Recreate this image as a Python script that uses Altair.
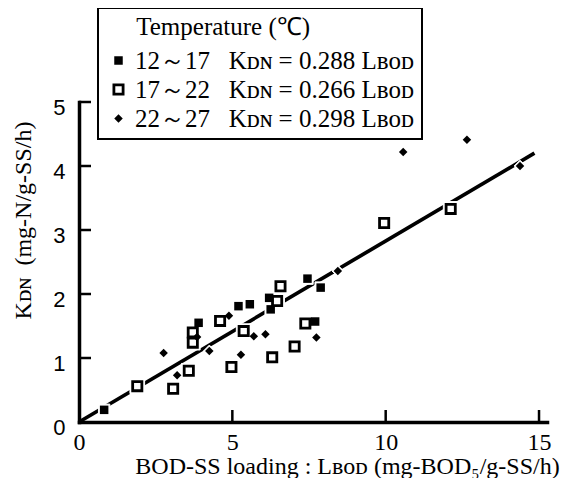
import altair as alt
import pandas as pd

# ---- data ----
temp_ranges = ["12～17", "17～22", "22～27"]
equations = ["Kᴅɴ = 0.288 Lʙᴏᴅ", "Kᴅɴ = 0.266 Lʙᴏᴅ", "Kᴅɴ = 0.298 Lʙᴏᴅ"]

g1_x = [0.82, 3.90, 5.20, 5.57, 6.20, 6.25, 7.45, 7.88, 7.70]
g1_y = [0.19, 1.55, 1.81, 1.84, 1.94, 1.76, 2.24, 2.10, 1.57]

g2_x = [1.90, 3.07, 3.58, 3.71, 3.71, 4.60, 5.37, 4.97, 6.30, 7.03, 7.38, 6.46, 6.57, 9.95, 12.12]
g2_y = [0.56, 0.52, 0.80, 1.40, 1.24, 1.58, 1.42, 0.86, 1.01, 1.18, 1.54, 1.89, 2.12, 3.11, 3.33]

g3_x = [2.76, 3.20, 3.85, 4.25, 4.89, 5.28, 5.70, 6.08, 7.74, 8.44, 10.57, 12.65, 14.38]
g3_y = [1.08, 0.73, 1.33, 1.11, 1.66, 1.05, 1.34, 1.37, 1.32, 2.36, 4.22, 4.41, 4.00]

line_x = [0.0, 14.85]
line_y = [0.0, 4.20]

x_tick_values = [0, 5, 10, 15]
y_tick_values = [0, 1, 2, 3, 4, 5]
x_inner_ticks = [5, 10, 15]
y_inner_ticks = [1, 2, 3, 4, 5]

# ---- build tables ----
NB = "\u00a0"
ZW = "\u200b"
labels = [f"{t}{NB*3}{e}" for t, e in zip(temp_ranges, equations)]
groups_x = [g1_x, g2_x, g3_x]
groups_y = [g1_y, g2_y, g3_y]
rows = []
for lab, xs, ys in zip(labels, groups_x, groups_y):
    for a, b in zip(xs, ys):
        rows.append({"x": a, "y": b, "group": lab})
pts = pd.DataFrame(rows)
line_df = pd.DataFrame({"x": line_x, "y": line_y})
xt_df = pd.DataFrame({"x": x_inner_ticks})
yt_df = pd.DataFrame({"y": y_inner_ticks})

# marker shapes (unit paths)
FSQ = "M-0.85,-0.85L0.85,-0.85L0.85,0.85L-0.85,0.85Z"
OSQ = "M-1.2,-1.2L1.2,-1.2L1.2,1.2L-1.2,1.2Z M-0.64,-0.64L-0.64,0.64L0.64,0.64L0.64,-0.64Z"
OSQ_OUT = "M-1.2,-1.2L1.2,-1.2L1.2,1.2L-1.2,1.2Z"
DIA = "M0,-0.85L0.85,0L0,0.85L-0.85,0Z"
shape_paths = [FSQ, OSQ, DIA]
halo_paths = [FSQ, OSQ_OUT, DIA]
halo_sizes = [180, 150, 190]

SERIF = "Liberation Serif"
SANS = "Liberation Sans"

xs_scale = alt.Scale(domain=[0, 15.26], nice=False, zero=False)
ys_scale = alt.Scale(domain=[0, 5], nice=False, zero=False)

x_axis = alt.Axis(
    values=x_tick_values, grid=False, ticks=False, tickSize=0, format="d",
    labelFont=SERIF, labelFontSize=24, labelColor="black",
    labelBaseline="alphabetic", labelPadding=27, labelFlush=False, labelOverlap=False,
    domainColor="black", domainWidth=3.5, domainCap="square",
    title="BOD-SS loading : Lʙᴏᴅ (mg-BOD₅/g-SS/h)",
    titleFont=SERIF, titleFontSize=24, titleFontWeight="normal", titleColor="black",
    titleX=268, titleY=51, titleAlign="center", titleBaseline="alphabetic",
)
y_axis = alt.Axis(
    values=y_tick_values, grid=False, ticks=False, tickSize=0, format="d",
    labelFont=SANS, labelFontSize=22, labelColor="black",
    labelBaseline="alphabetic", labelOffset=12, labelPadding=14, labelFlush=False,
    labelOverlap=False,
    domainColor="black", domainWidth=3.5, domainCap="square",
    title="Kᴅɴ" + NB * 2 + "(mg-N/g-SS/h)",
    titleFont=SERIF, titleFontSize=24, titleFontWeight="normal", titleColor="black",
    titleAngle=270, titleX=-49, titleY=118, titleAlign="center", titleBaseline="alphabetic",
)

X = alt.X("x:Q", scale=xs_scale, axis=x_axis)
Y = alt.Y("y:Q", scale=ys_scale, axis=y_axis)

line = alt.Chart(line_df).mark_line(color="black", strokeWidth=3.7).encode(x=X, y=Y)

halos = []
for lab, hp, hs in zip(labels, halo_paths, halo_sizes):
    halos.append(
        alt.Chart(pts[pts["group"] == lab]).mark_point(
            shape=hp, size=hs, filled=True, fill="white", stroke="white",
            strokeWidth=1, opacity=1
        ).encode(x=X, y=Y)
    )

legend = alt.Legend(
    title=ZW + NB * 5 + "Temperature (℃)",
    orient="none", legendX=19, legendY=-94,
    strokeColor="black", fillColor="white", padding=7, cornerRadius=0,
    titleFont=SERIF, titleFontSize=25, titleFontWeight="normal", titleColor="black",
    titlePadding=8, titleLimit=600,
    labelFont=SERIF, labelFontSize=25, labelColor="black", labelLimit=600,
    labelOffset=4, rowPadding=3,
    symbolFillColor="black", symbolStrokeWidth=0, symbolSize=100, symbolOpacity=1,
    symbolOffset=1,
)

points = alt.Chart(pts).mark_point(
    filled=True, fill="black", strokeWidth=0, size=100, opacity=1
).encode(
    x=X, y=Y,
    shape=alt.Shape("group:N", scale=alt.Scale(domain=labels, range=shape_paths), legend=legend),
)

xticks = alt.Chart(xt_df).mark_tick(
    orient="vertical", color="black", thickness=2.5, size=12, yOffset=-6, opacity=1
).encode(x=X, y=alt.datum(0))
yticks = alt.Chart(yt_df).mark_tick(
    orient="horizontal", color="black", thickness=2.5, size=12, xOffset=6, opacity=1
).encode(x=alt.datum(0), y=Y)

chart = alt.layer(line, *halos, points, xticks, yticks).properties(
    width=468, height=320,
    autosize=alt.AutoSizeParams(type="none"),
    padding={"left": 71, "top": 94, "right": 14, "bottom": 56},
    background="white",
).configure_view(stroke=None).configure_legend(strokeWidth=2)

chart.save("out.html", embed_options={"renderer": "svg", "actions": False})
